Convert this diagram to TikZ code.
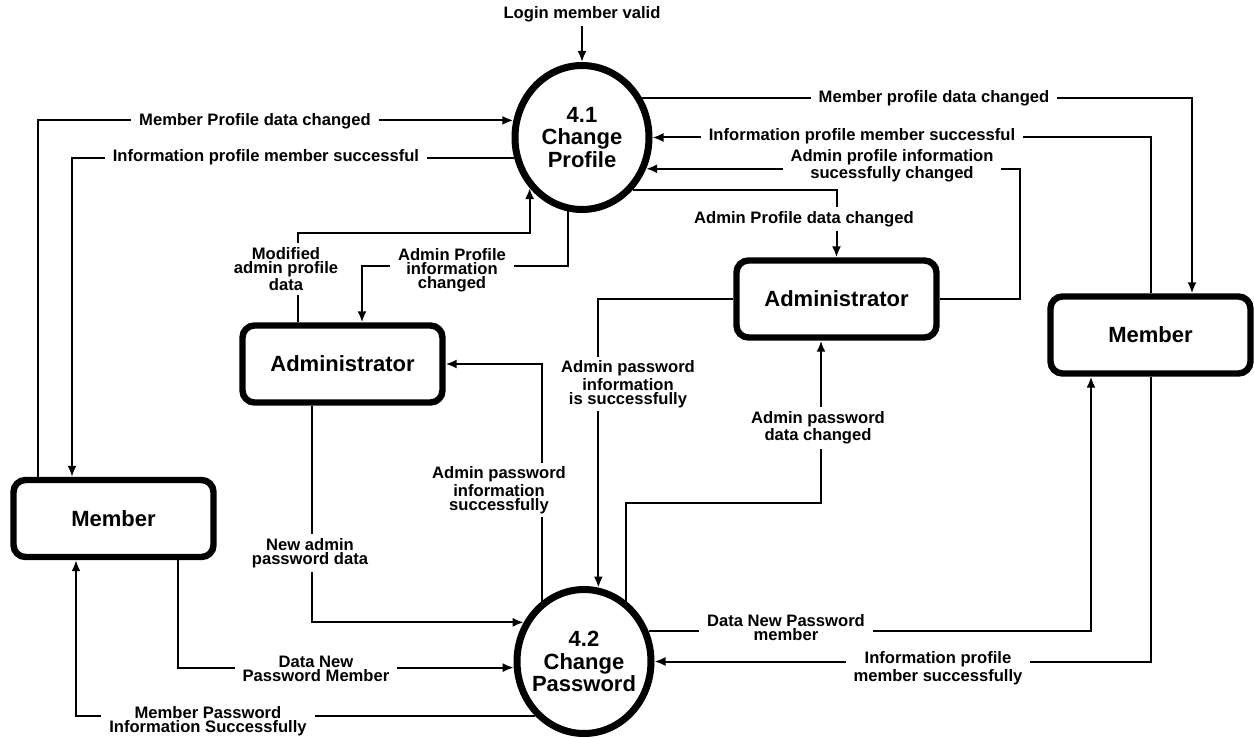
\documentclass[tikz,border=0pt]{standalone}
\usepackage{fontspec}
\setmainfont{Liberation Sans}
\usetikzlibrary{shapes.geometric,arrows.meta,calc}
\begin{document}
\begin{tikzpicture}[x=0.5pt,y=-0.5pt,
  flow/.style={line width=1pt,-{Latex[length=5.5pt,width=4.5pt]}},
  lbl/.style={fill=white,inner xsep=4pt,inner ysep=2pt,align=center,font=\bfseries\fontsize{8.3}{7}\selectfont},
  proc/.style={ellipse,draw,line width=3.5pt,minimum width=67pt,minimum height=72pt,inner sep=0pt},
  ent/.style={draw,line width=3.2pt,rounded corners=6pt,minimum width=100pt,minimum height=38.5pt,font=\bfseries\fontsize{11}{13}\selectfont},
  ptxt/.style={align=center,font=\bfseries\fontsize{11}{11.25}\selectfont}]
\useasboundingbox[fill=white] (0,0) rectangle (1254,738);

% processes and entities
\node[proc,label={[ptxt]center:4.1\\Change\\Profile}] (p1) at (582,137.5) {};
\node[proc,label={[ptxt]center:4.2\\Change\\Password}] (p2) at (584,661.5) {};
\node[ent] (aL) at (342.5,364) {Administrator};
\node[ent] (aR) at (836.5,299) {Administrator};
\node[ent] (mL) at (113.5,518.5) {Member};
\node[ent] (mR) at (1150.5,335) {Member};

\node[lbl,fill=none] (login) at (582,14) {Login member valid};

% connectors
\draw[flow] (login.south) -- (p1.north);
\draw[flow] (mL.north -| 38,0) |- (p1.166);
\draw[flow] (p1.197) -| (mL.north -| 72,0);
\draw[flow] (p1.33) -| (mR.north -| 1192,0);
\draw[flow] (mR.north) |- (p1.east);
\draw[flow] (aR.east) -| (p1.334 -| 1020,0) -- (p1.334);
\draw[flow] (p1.314) -| (aR.north);
\draw[flow] (aL.north -| 298,0) |- (p1.224 |- 0,233) -- (p1.224);
\draw[flow] (p1.259) -- (p1.259 |- 0,266) -| (aL.north -| 362,0);
\draw[flow] (aL.south -| 312,0) |- (p2.147);
\draw[flow] (p2.125) |- (aL.east);
\draw[flow] (aR.west) -| (p2.79);
\draw[flow] (p2.55) -- (p2.55 |- 0,503) -| (aR.south -| 821,0);
\draw[flow] (mL.south -| 178,0) |- (p2.185);
\draw[flow] (p2.228) -| (mL.south -| 76,0);
\draw[flow] (p2.25) -| (mR.south -| 1091,0);
\draw[flow] (mR.south) |- (p2.east);

% connector labels
\node[lbl] (l1) at (255,121) {Member Profile data changed};
\node[lbl] (l2) at (266,157) {Information profile member successful};
\node[lbl] (l3) at (934,98) {Member profile data changed};
\node[lbl] (l4) at (862,136) {Information profile member successful};
\node[lbl] (l5) at (892,166) {Admin profile information\\sucessfully changed};
\node[lbl] (l6) at (804,219) {Admin Profile data changed};
\node[lbl] (l7) at (286,269) {Modified\\admin profile\\data};
\node[lbl] (l8) at (452,270) {Admin Profile\\information\\changed};
\node[lbl] (l9) at (310,553) {New admin\\password data};
\node[lbl] (l10) at (499,490) {Admin password\\information\\successfully};
\node[lbl] (l11) at (628,384) {Admin password\\information\\is successfully};
\node[lbl] (l12) at (818,428) {Admin password\\data changed};
\node[lbl] (l13) at (316,669) {Data New\\Password Member};
\node[lbl] (l14) at (208,721) {Member Password\\Information Successfully};
\node[lbl] (l15) at (786,628) {Data New Password\\member};
\node[lbl] (l16) at (938,668) {Information profile\\member successfully};
\end{tikzpicture}
\end{document}
